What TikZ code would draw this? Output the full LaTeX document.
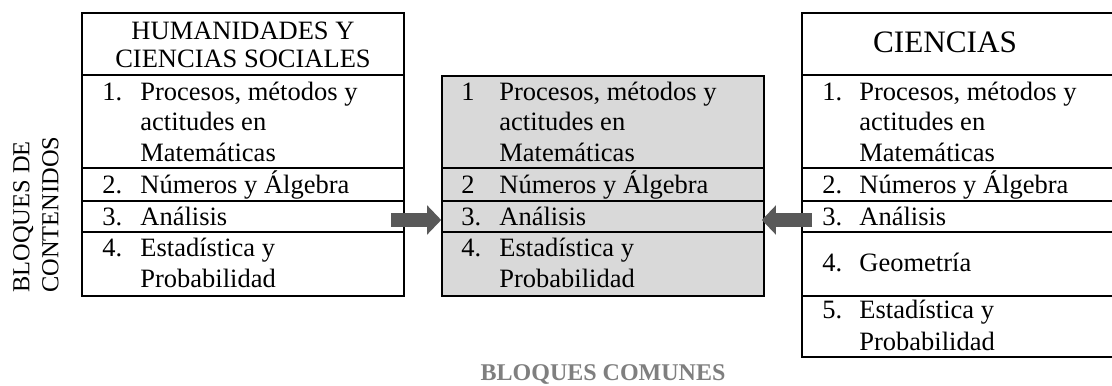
\documentclass[tikz,border=0pt]{standalone}
\usepackage{fontspec}
\setmainfont{Liberation Serif}
\usetikzlibrary{fit,arrows.meta}
\definecolor{midfill}{HTML}{D9D9D9}
\definecolor{arrowgray}{HTML}{595959}
\definecolor{labelgray}{HTML}{7F7F7F}
\tikzset{
  cell/.style={draw=black, line width=0.8pt, inner sep=0pt, rectangle},
  midcell/.style={cell, fill=midfill},
  tx/.style={anchor=base west, inner sep=0pt, font=\fontsize{13.25}{15}\selectfont},
  hd/.style={anchor=base, inner sep=0pt, font=\fontsize{13.25}{15}\selectfont},
  bigarrow/.style={draw=arrowgray, line width=7.3pt, line cap=butt,
    -{Triangle[width=14.2pt,length=7pt]}},
}
\begin{document}
\begin{tikzpicture}[x=0.5pt,y=-0.5pt]
\useasboundingbox (0,0) rectangle (1112,385);
\clip (0,0) rectangle (1112,385);
% left table
\node[cell, fit={(82,13) (404,75)}] (h0) {};
\node[cell, fit={(82,75) (404,168)}] (h1) {};
\node[cell, fit={(82,168) (404,200.7)}] (h2) {};
\node[cell, fit={(82,200.7) (404,232)}] (h3) {};
\node[cell, fit={(82,232) (404,296)}] (h4) {};
% middle table
\node[midcell, fit={(442,76) (764,168)}] (m1) {};
\node[midcell, fit={(442,168) (764,200.7)}] (m2) {};
\node[midcell, fit={(442,200.7) (764,232)}] (m3) {};
\node[midcell, fit={(442,232) (764,296)}] (m4) {};
% right table
\node[cell, fit={(802,13) (1124,75)}] (c0) {};
\node[cell, fit={(802,75) (1124,168)}] (c1) {};
\node[cell, fit={(802,168) (1124,200.7)}] (c2) {};
\node[cell, fit={(802,200.7) (1124,232)}] (c3) {};
\node[cell, fit={(802,232) (1124,296)}] (c4) {};
\node[cell, fit={(802,296) (1124,357)}] (c5) {};

% left texts
\node[hd] (h0a) at (243,39.3) {HUMANIDADES Y};
\node[hd] (h0b) at (243,67.7) {CIENCIAS SOCIALES};
\node[tx] (h1n) at (102,100) {1.};
\node[tx] (h1a) at (140,100) {Procesos, métodos y};
\node[tx] (h1b) at (140,130.7) {actitudes en};
\node[tx] (h1c) at (140,161) {Matemáticas};
\node[tx] (h2n) at (102,193.3) {2.};
\node[tx] (h2a) at (140,193.3) {Números y Álgebra};
\node[tx] (h3n) at (102,225) {3.};
\node[tx] (h3a) at (140,225) {Análisis};
\node[tx] (h4n) at (102,256.7) {4.};
\node[tx] (h4a) at (140,256.7) {Estadística y};
\node[tx] (h4b) at (140,287.3) {Probabilidad};

% middle texts
\node[tx] (m1n) at (461,100) {1};
\node[tx] (m1a) at (499,100) {Procesos, métodos y};
\node[tx] (m1b) at (499,130.7) {actitudes en};
\node[tx] (m1c) at (499,161) {Matemáticas};
\node[tx] (m2n) at (461,193.3) {2};
\node[tx] (m2a) at (499,193.3) {Números y Álgebra};
\node[tx] (m3n) at (461,225) {3.};
\node[tx] (m3a) at (499,225) {Análisis};
\node[tx] (m4n) at (461,256.7) {4.};
\node[tx] (m4a) at (499,256.7) {Estadística y};
\node[tx] (m4b) at (499,287.3) {Probabilidad};

% right texts
\node[hd, font=\fontsize{15.6}{17}\selectfont] (c0a) at (945,52.7) {CIENCIAS};
\node[tx] (c1n) at (822,100) {1.};
\node[tx] (c1a) at (859,100) {Procesos, métodos y};
\node[tx] (c1b) at (859,130.7) {actitudes en};
\node[tx] (c1c) at (859,161) {Matemáticas};
\node[tx] (c2n) at (822,193.3) {2.};
\node[tx] (c2a) at (859,193.3) {Números y Álgebra};
\node[tx] (c3n) at (822,225) {3.};
\node[tx] (c3a) at (859,225) {Análisis};
\node[tx] (c4n) at (822,271.7) {4.};
\node[tx] (c4a) at (859,271.7) {Geometría};
\node[tx] (c5n) at (822,318.3) {5.};
\node[tx] (c5a) at (859,318.3) {Estadística y};
\node[tx] (c5b) at (859,350) {Probabilidad};

% side and bottom labels
\node[rotate=90, anchor=west, inner sep=0pt, align=left,
      font=\fontsize{12.2}{14.5}\selectfont] (side) at (36,293) {BLOQUES DE\\CONTENIDOS};
\node[anchor=base, inner sep=0pt, text=labelgray,
      font=\fontsize{12}{14}\selectfont\bfseries] (bc) at (603,380) {BLOQUES COMUNES};

% arrows
\coordinate (la) at (391,220);
\coordinate (ra) at (812,220);
\draw[bigarrow] (la) -- (m3.west |- la);
\draw[bigarrow] (ra) -- ([xshift=-1.5pt]m3.east |- ra);
\end{tikzpicture}
\end{document}
